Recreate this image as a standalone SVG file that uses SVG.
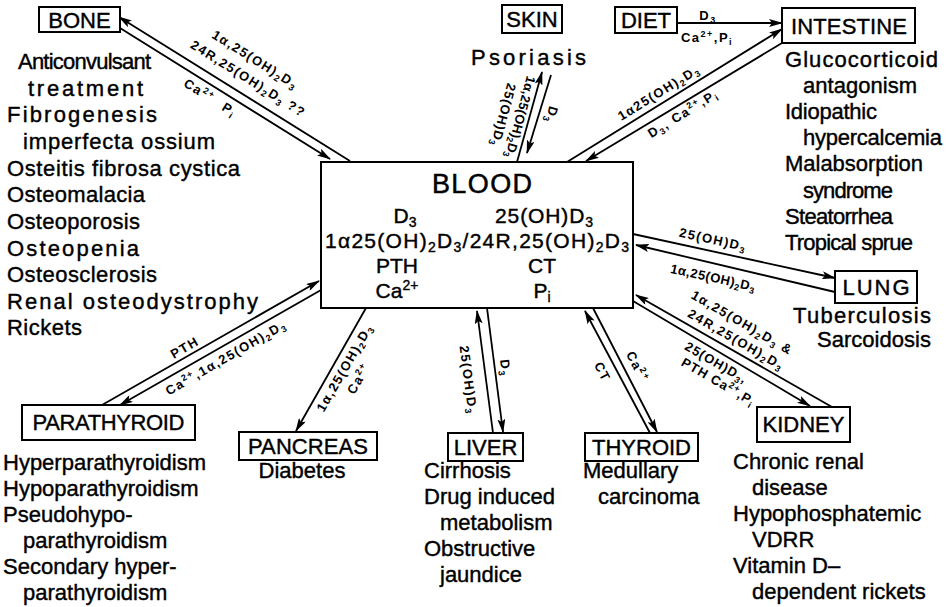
<svg xmlns="http://www.w3.org/2000/svg" width="946" height="607" viewBox="0 0 946 607">
<style>
text{font-family:"Liberation Sans",Arial,sans-serif;fill:#000}
.bx{fill:#fff;stroke:#000;stroke-width:2}
.nt{font-size:22px;text-anchor:middle;stroke:#000;stroke-width:0.4}
.t{font-size:22px;stroke:#000;stroke-width:0.4}
.b{font-size:21px;text-anchor:middle;stroke:#000;stroke-width:0.4}
.ln{stroke:#000;stroke-width:1.8;fill:none;marker-end:url(#ah)}
.lb{font-size:13px;font-weight:bold;letter-spacing:1.5px;text-anchor:middle}
.s{font-size:9px}
.bs{font-size:14px}
</style>
<defs>
<marker id="ah" viewBox="0 0 14 8" refX="13" refY="4" markerWidth="14" markerHeight="8" orient="auto" markerUnits="userSpaceOnUse"><path d="M0,0 L14,4 L0,8 L3,4 z" fill="#000"/></marker>
</defs>
<rect width="946" height="607" fill="#fff"/>

<g id="connectors">
<line class="ln" x1="350" y1="161" x2="119" y2="17"/>
<line class="ln" x1="120" y1="28" x2="330" y2="159"/>
<line class="ln" x1="517" y1="162" x2="542" y2="72"/>
<line class="ln" x1="551" y1="75" x2="527" y2="153"/>
<line class="ln" x1="677" y1="23" x2="782" y2="23"/>
<line class="ln" x1="567" y1="162" x2="782" y2="29"/>
<line class="ln" x1="782" y1="43" x2="586" y2="161"/>
<line class="ln" x1="633" y1="234" x2="835" y2="278"/>
<line class="ln" x1="835" y1="292" x2="636" y2="245"/>
<line class="ln" x1="832" y1="407" x2="636" y2="295"/>
<line class="ln" x1="633" y1="301" x2="810" y2="406"/>
<line class="ln" x1="102" y1="405" x2="319" y2="281"/>
<line class="ln" x1="321" y1="290" x2="120" y2="405"/>
<line class="ln" x1="366" y1="308" x2="296" y2="431"/>
<line class="ln" x1="493" y1="433" x2="477" y2="311"/>
<line class="ln" x1="487" y1="308" x2="503" y2="432"/>
<line class="ln" x1="650" y1="433" x2="585" y2="311"/>
<line class="ln" x1="593" y1="308" x2="657" y2="432"/>

<text class="lb" transform="translate(255,60) rotate(32)" y="4">1α,25(OH)<tspan class="s" dy="3">2</tspan><tspan dy="-3">D</tspan><tspan class="s" dy="3">3</tspan></text>
<text class="lb" transform="translate(248,79) rotate(32)" y="4">24R,25(OH)<tspan class="s" dy="3">2</tspan><tspan dy="-3">D</tspan><tspan class="s" dy="3">3</tspan><tspan dy="-3"> ??</tspan></text>
<text class="lb" transform="translate(210,98) rotate(32)" y="4">Ca<tspan class="s" dy="-5">2+</tspan><tspan dx="12" dy="5">P</tspan><tspan class="s" dy="3">i</tspan></text>

<text class="lb" transform="translate(520,117) rotate(105)" y="4" style="letter-spacing:0.3px">1α,25(OH)<tspan class="s" dy="3">2</tspan><tspan dy="-3">D</tspan><tspan class="s" dy="3">3</tspan></text>
<text class="lb" transform="translate(503,115) rotate(105)" y="4" style="letter-spacing:1px">25(OH)D<tspan class="s" dy="3">3</tspan></text>
<text class="lb" transform="translate(551,115) rotate(105)" y="4">D<tspan class="s" dy="3">3</tspan></text>

<text class="lb" x="708" y="20">D<tspan class="s" dy="3">3</tspan></text>
<text class="lb" x="707" y="42">Ca<tspan class="s" dy="-5">2+</tspan><tspan dy="5">,P</tspan><tspan class="s" dy="3">i</tspan></text>

<text class="lb" transform="translate(659,93) rotate(-31.7)" y="4">1α25(OH)<tspan class="s" dy="3">2</tspan><tspan dy="-3">D</tspan><tspan class="s" dy="3">3</tspan></text>
<text class="lb" transform="translate(683,114) rotate(-31.7)" y="4">D<tspan class="s" dy="3">3</tspan><tspan dy="-3">, Ca</tspan><tspan class="s" dy="-5">2+</tspan><tspan dy="5">,P</tspan><tspan class="s" dy="3">i</tspan></text>

<text class="lb" transform="translate(713,240) rotate(12.3)" y="4">25(OH)D<tspan class="s" dy="3">3</tspan></text>
<text class="lb" transform="translate(713,278) rotate(12.3)" y="4" style="letter-spacing:0.5px">1α,25(OH)<tspan class="s" dy="3">2</tspan><tspan dy="-3">D</tspan><tspan class="s" dy="3">3</tspan></text>

<text class="lb" transform="translate(742,323) rotate(30)" y="4">1α,25(OH)<tspan class="s" dy="3">2</tspan><tspan dy="-3">D</tspan><tspan class="s" dy="3">3</tspan><tspan dy="-3"> &amp;</tspan></text>
<text class="lb" transform="translate(736,340) rotate(30)" y="4">24R,25(OH)<tspan class="s" dy="3">2</tspan><tspan dy="-3">D</tspan><tspan class="s" dy="3">3</tspan></text>
<text class="lb" transform="translate(716,363) rotate(30)" y="4" style="letter-spacing:1px">25(OH)D<tspan class="s" dy="3">3</tspan><tspan dy="-3">,</tspan></text>
<text class="lb" transform="translate(718,382) rotate(30)" y="4" style="letter-spacing:1px">PTH Ca<tspan class="s" dy="-5">2+</tspan><tspan dy="5">,P</tspan><tspan class="s" dy="3">i</tspan></text>

<text class="lb" transform="translate(185,348) rotate(-30)" y="4">PTH</text>
<text class="lb" transform="translate(226,358) rotate(-30)" y="4">Ca<tspan class="s" dy="-5">2+</tspan><tspan dy="5">,1α,25(OH)</tspan><tspan class="s" dy="3">2</tspan><tspan dy="-3">D</tspan><tspan class="s" dy="3">3</tspan></text>

<text class="lb" transform="translate(345,368) rotate(-60)" y="4">1α,25(OH)<tspan class="s" dy="3">2</tspan><tspan dy="-3">D</tspan><tspan class="s" dy="3">3</tspan></text>
<text class="lb" transform="translate(359,379) rotate(-60)" y="4">Ca<tspan class="s" dy="-5">2+</tspan></text>

<text class="lb" transform="translate(468,380) rotate(82.5)" y="4">25(OH)D<tspan class="s" dy="3">3</tspan></text>
<text class="lb" transform="translate(505,368) rotate(82.5)" y="4">D<tspan class="s" dy="3">3</tspan></text>

<text class="lb" transform="translate(602,372) rotate(62)" y="4">CT</text>
<text class="lb" transform="translate(637,367) rotate(62)" y="4">Ca<tspan class="s" dy="-5">2+</tspan></text>
</g>

<g id="blood">
<rect class="bx" x="321" y="162" width="312" height="146"/>
<text x="482" y="193" text-anchor="middle" font-size="27" textLength="100" stroke="#000" stroke-width="0.5">BLOOD</text>
<text class="b" x="405" y="223">D<tspan class="bs" dy="4">3</tspan></text>
<text class="b" x="544" y="223" textLength="98">25(OH)D<tspan class="bs" dy="4">3</tspan></text>
<text class="b" x="477" y="248" textLength="304">1α25(OH)<tspan class="bs" dy="4">2</tspan><tspan dy="-4">D</tspan><tspan class="bs" dy="4">3</tspan><tspan dy="-4">/24R,25(OH)</tspan><tspan class="bs" dy="4">2</tspan><tspan dy="-4">D</tspan><tspan class="bs" dy="4">3</tspan></text>
<text class="b" x="397" y="273">PTH</text>
<text class="b" x="542" y="273">CT</text>
<text class="b" x="397" y="298">Ca<tspan class="bs" dy="-8">2+</tspan></text>
<text class="b" x="542" y="298">P<tspan class="bs" dy="4">i</tspan></text>
</g>

<g id="bone">
<rect class="bx" x="39" y="7" width="81" height="25"/>
<text class="nt" x="79.5" y="28">BONE</text>
<text class="t" x="18" y="69" textLength="133">Anticonvulsant</text>
<text class="t" x="28" y="96" textLength="115">treatment</text>
<text class="t" x="7" y="122" textLength="150">Fibrogenesis</text>
<text class="t" x="23" y="149" textLength="192">imperfecta ossium</text>
<text class="t" x="7" y="176" textLength="233">Osteitis fibrosa cystica</text>
<text class="t" x="7" y="202" textLength="138">Osteomalacia</text>
<text class="t" x="7" y="229" textLength="133">Osteoporosis</text>
<text class="t" x="7" y="256" textLength="132">Osteopenia</text>
<text class="t" x="7" y="282" textLength="150">Osteosclerosis</text>
<text class="t" x="7" y="309" textLength="251">Renal osteodystrophy</text>
<text class="t" x="7" y="335" textLength="75">Rickets</text>
</g>

<g id="skin">
<rect class="bx" x="502" y="5" width="60" height="28"/>
<text class="nt" x="532" y="27">SKIN</text>
<text class="t" x="471" y="65" textLength="115">Psoriasis</text>
</g>

<g id="diet">
<rect class="bx" x="615" y="7" width="62" height="26"/>
<text class="nt" x="646" y="28">DIET</text>
</g>

<g id="intestine">
<rect class="bx" x="782" y="8" width="133" height="35"/>
<text class="nt" x="849" y="34" textLength="116">INTESTINE</text>
<text class="t" x="785" y="67" textLength="153">Glucocorticoid</text>
<text class="t" x="803" y="93" textLength="114">antagonism</text>
<text class="t" x="785" y="119" textLength="92">Idiopathic</text>
<text class="t" x="803" y="145" textLength="139">hypercalcemia</text>
<text class="t" x="785" y="171" textLength="138">Malabsorption</text>
<text class="t" x="803" y="198" textLength="90">syndrome</text>
<text class="t" x="785" y="224" textLength="108">Steatorrhea</text>
<text class="t" x="785" y="250" textLength="128">Tropical sprue</text>
</g>

<g id="lung">
<rect class="bx" x="835" y="271" width="82" height="32"/>
<text class="nt" x="876" y="295" textLength="67">LUNG</text>
<text class="t" x="793" y="323" textLength="138">Tuberculosis</text>
<text class="t" x="817" y="347" textLength="114">Sarcoidosis</text>
</g>

<g id="kidney">
<rect class="bx" x="757" y="407" width="93" height="35"/>
<text class="nt" x="803.5" y="432">KIDNEY</text>
<text class="t" x="733" y="469">Chronic renal</text>
<text class="t" x="752" y="495">disease</text>
<text class="t" x="733" y="521">Hypophosphatemic</text>
<text class="t" x="752" y="547">VDRR</text>
<text class="t" x="733" y="573">Vitamin D–</text>
<text class="t" x="752" y="599">dependent rickets</text>
</g>

<g id="parathyroid">
<rect class="bx" x="22" y="405" width="173" height="35"/>
<text class="nt" x="108.5" y="430" textLength="152">PARATHYROID</text>
<text class="t" x="3" y="470">Hyperparathyroidism</text>
<text class="t" x="3" y="496">Hypoparathyroidism</text>
<text class="t" x="3" y="522">Pseudohypo-</text>
<text class="t" x="23" y="548">parathyroidism</text>
<text class="t" x="3" y="574">Secondary hyper-</text>
<text class="t" x="23" y="600">parathyroidism</text>
</g>

<g id="pancreas">
<rect class="bx" x="239" y="432" width="138" height="28"/>
<text class="nt" x="308" y="454" textLength="120">PANCREAS</text>
<text class="t" x="302" y="478" text-anchor="middle">Diabetes</text>
</g>

<g id="liver">
<rect class="bx" x="448" y="433" width="75" height="28"/>
<text class="nt" x="485.5" y="455">LIVER</text>
<text class="t" x="424" y="478">Cirrhosis</text>
<text class="t" x="424" y="504">Drug induced</text>
<text class="t" x="440" y="530">metabolism</text>
<text class="t" x="424" y="556">Obstructive</text>
<text class="t" x="440" y="582">jaundice</text>
</g>

<g id="thyroid">
<rect class="bx" x="585" y="433" width="113" height="28"/>
<text class="nt" x="641.5" y="455">THYROID</text>
<text class="t" x="583" y="478">Medullary</text>
<text class="t" x="598" y="504">carcinoma</text>
</g>
</svg>
